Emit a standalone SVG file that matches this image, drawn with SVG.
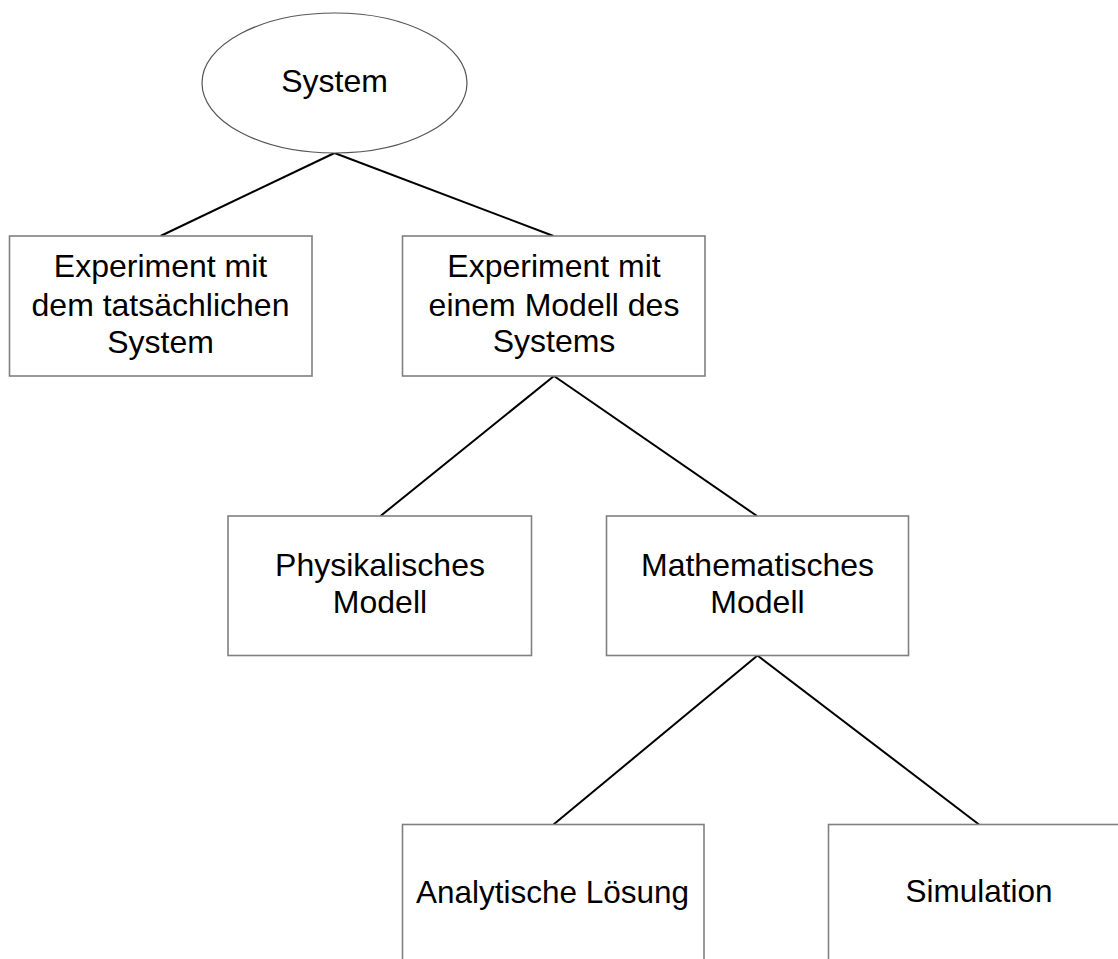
<svg xmlns="http://www.w3.org/2000/svg" width="1118" height="959" viewBox="0 0 1118 959">
  <style>
    .box { fill: #ffffff; stroke: #808080; stroke-width: 1.6; }
    .oval { fill: #ffffff; stroke: #555555; stroke-width: 1.2; }
    .edge { stroke: #000000; stroke-width: 2; fill: none; }
    .label { font-family: "Liberation Sans", Arial, sans-serif; font-size: 32px; fill: #000000; text-anchor: middle; }
    .small { font-size: 31.5px; }
  </style>
  <rect x="0" y="0" width="1118" height="959" fill="#ffffff"/>

  <g id="connectors">
    <line class="edge" x1="334.5" y1="153" x2="160.5" y2="236"/>
    <line class="edge" x1="334.5" y1="153" x2="553.5" y2="236"/>
    <line class="edge" x1="554" y1="376" x2="380.5" y2="516"/>
    <line class="edge" x1="554" y1="376" x2="757" y2="516"/>
    <line class="edge" x1="757.5" y1="655.5" x2="553.5" y2="824.5"/>
    <line class="edge" x1="757.5" y1="655.5" x2="979" y2="824.5"/>
  </g>

  <g id="system">
    <ellipse class="oval" cx="334.5" cy="83" rx="132.5" ry="70"/>
    <text class="label" x="334.5" y="92">System</text>
  </g>

  <g id="real-experiment">
    <rect class="box" x="9.5" y="236" width="302.5" height="140"/>
    <text class="label" x="160.5" y="277">Experiment mit</text>
    <text class="label" x="160.5" y="316">dem tatsächlichen</text>
    <text class="label" x="160.5" y="353">System</text>
  </g>

  <g id="model-experiment">
    <rect class="box" x="402.5" y="236" width="302.5" height="140"/>
    <text class="label" x="554" y="277">Experiment mit</text>
    <text class="label" x="554" y="316">einem Modell des</text>
    <text class="label" x="554" y="352">Systems</text>
  </g>

  <g id="physical-model">
    <rect class="box" x="228" y="516" width="303.5" height="139.5"/>
    <text class="label" x="380" y="576">Physikalisches</text>
    <text class="label" x="380" y="613">Modell</text>
  </g>

  <g id="mathematical-model">
    <rect class="box" x="606.5" y="516" width="302" height="139.5"/>
    <text class="label" x="757.5" y="576">Mathematisches</text>
    <text class="label" x="757.5" y="613">Modell</text>
  </g>

  <g id="analytical-solution">
    <rect class="box" x="402.5" y="824.5" width="301.5" height="160"/>
    <text class="label small" x="552.5" y="903">Analytische Lösung</text>
  </g>

  <g id="simulation">
    <rect class="box" x="828.5" y="824.5" width="320" height="160"/>
    <text class="label small" x="979" y="902">Simulation</text>
  </g>
</svg>
